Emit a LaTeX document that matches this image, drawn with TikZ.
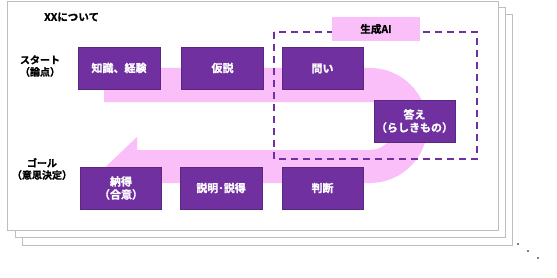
\documentclass[tikz,border=0pt]{standalone}
\usepackage{fontspec}
\setmainfont{Noto Sans CJK JP}[BoldFont={Noto Sans CJK JP Bold}, BoldFeatures={FakeBold=1.2}]
\definecolor{boxpurple}{HTML}{7030A0}
\definecolor{bandpink}{RGB}{250,190,248}
\definecolor{pagegray}{RGB}{190,190,190}
\tikzset{
  pagebox/.style={draw=pagegray, line width=0.8pt, fill=white},
  stepbox/.style={fill=boxpurple, draw=boxpurple!80!black, line width=0.4pt, text=white, font=\bfseries\fontsize{11}{13}\selectfont, align=center, inner sep=0pt},
  sidelabel/.style={font=\bfseries\fontsize{10}{12}\selectfont, align=center, inner sep=0pt},
  dot/.style={fill=black, circle, inner sep=0pt, minimum size=1.6pt}
}
\begin{document}
\begin{tikzpicture}[x=1pt,y=-1pt]
\useasboundingbox (0,0) rectangle (557,278);
% stacked pages
\draw[pagebox] (22,14) rectangle (512,245);
\draw[pagebox] (15,7) rectangle (505,237);
\draw[pagebox] (7,1) rectangle (498,230);
% dots
\node[dot] (d1) at (518,244) {};
\node[dot] (d2) at (528,251) {};
\node[dot] (d3) at (538,258) {};
% pink U-shaped arrow
\fill[bandpink] (104,68) -- (370,68) arc[start angle=90, end angle=-90, radius=57.5pt]
  -- (137,183) -- (137,196) -- (106,166.5) -- (137,137) -- (137,150)
  -- (370,150) arc[start angle=-90, end angle=90, radius=24pt] -- (104,102) -- cycle;
% title
\node[sidelabel, anchor=west, font=\bfseries\fontsize{10.5}{12}\selectfont] (title) at (44,17) {XXについて};
% side labels
\node[sidelabel] (start) at (40,66) {スタート\\（論点）};
\node[sidelabel] (goal) at (42,169) {ゴール\\（意思決定）};
% dashed AI region
\draw[boxpurple, line width=1.6pt, dash pattern=on 7pt off 5pt] (274,32) rectangle (477,159);
\node[fill=bandpink, minimum width=88pt, minimum height=24pt, inner sep=0pt, font=\bfseries\fontsize{10.5}{12}\selectfont] (ai) at (376,29) {生成AI};
% boxes
\node[stepbox, minimum width=82pt, minimum height=42pt] (b1) at (119,68) {知識、経験};
\node[stepbox, minimum width=82pt, minimum height=42pt] (b2) at (222.5,68) {仮説};
\node[stepbox, minimum width=81pt, minimum height=42pt] (b3) at (322.5,68.5) {問い};
\node[stepbox, minimum width=81pt, minimum height=42pt] (b4) at (414.5,121) {答え\\（らしきもの）};
\node[stepbox, minimum width=81pt, minimum height=42pt] (b7) at (121,188) {納得\\（合意）};
\node[stepbox, minimum width=82pt, minimum height=42pt] (b6) at (221,188) {説明･説得};
\node[stepbox, minimum width=81pt, minimum height=42pt] (b5) at (322.5,188) {判断};
\end{tikzpicture}
\end{document}
